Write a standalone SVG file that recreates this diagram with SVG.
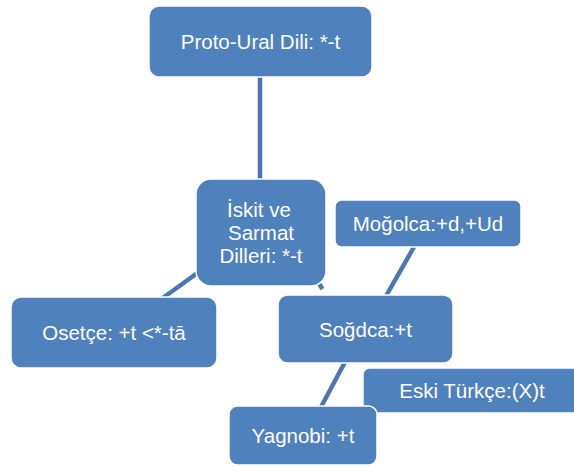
<svg xmlns="http://www.w3.org/2000/svg" width="574" height="467" viewBox="0 0 574 467">
  <style>
    .box { fill: #4F81BD; stroke: #FFFFFF; stroke-width: 1.5; }
    .lbl { fill: #FFFFFF; font-family: "Liberation Sans", Arial, sans-serif; font-size: 20.5px; text-anchor: middle; }
    .link { stroke: #4A77AF; stroke-width: 4.5; fill: none; stroke-linecap: butt; }
  </style>
  <rect width="574" height="467" fill="#FFFFFF"/>

  <!-- connectors, drawn under the boxes -->
  <g id="connectors">
    <line class="link" x1="260" y1="77" x2="260" y2="182"/>
    <line class="link" x1="205" y1="267.5" x2="160" y2="300"/>
    <line class="link" x1="306" y1="264" x2="322.5" y2="289"/>
    <line class="link" x1="414" y1="247" x2="386" y2="296"/>
    <line class="link" x1="345" y1="362" x2="321" y2="407"/>
  </g>

  <g id="proto-ural">
    <rect class="box" x="149" y="6" width="223" height="71" rx="10"/>
    <text class="lbl" x="260.5" y="49">Proto-Ural Dili: *-t</text>
  </g>

  <g id="iskit-sarmat">
    <rect class="box" x="196" y="179" width="130" height="107" rx="15"/>
    <text class="lbl" x="259" y="216.5">İskit ve</text>
    <text class="lbl" x="261" y="239.5">Sarmat</text>
    <text class="lbl" x="261" y="262.5">Dilleri: *-t</text>
  </g>

  <g id="mogolca">
    <rect class="box" x="335" y="200" width="186" height="47" rx="6.5"/>
    <text class="lbl" x="428" y="231">Moğolca:+d,+Ud</text>
  </g>

  <g id="osetce">
    <rect class="box" x="11" y="297" width="206" height="71" rx="10"/>
    <text class="lbl" x="114" y="340">Osetçe: +t &lt;*-tā</text>
  </g>

  <g id="sogdca">
    <rect class="box" x="278" y="295" width="175" height="68" rx="9.5"/>
    <text class="lbl" x="365.5" y="336.5">Soğdca:+t</text>
  </g>

  <g id="eski-turkce">
    <rect class="box" x="363" y="368" width="222" height="45" rx="6.5"/>
    <text class="lbl" x="472" y="398">Eski Türkçe:(X)t</text>
  </g>

  <g id="yagnobi">
    <rect class="box" x="229" y="406" width="148" height="59" rx="8.5"/>
    <text class="lbl" x="303" y="443">Yagnobi: +t</text>
  </g>
</svg>
